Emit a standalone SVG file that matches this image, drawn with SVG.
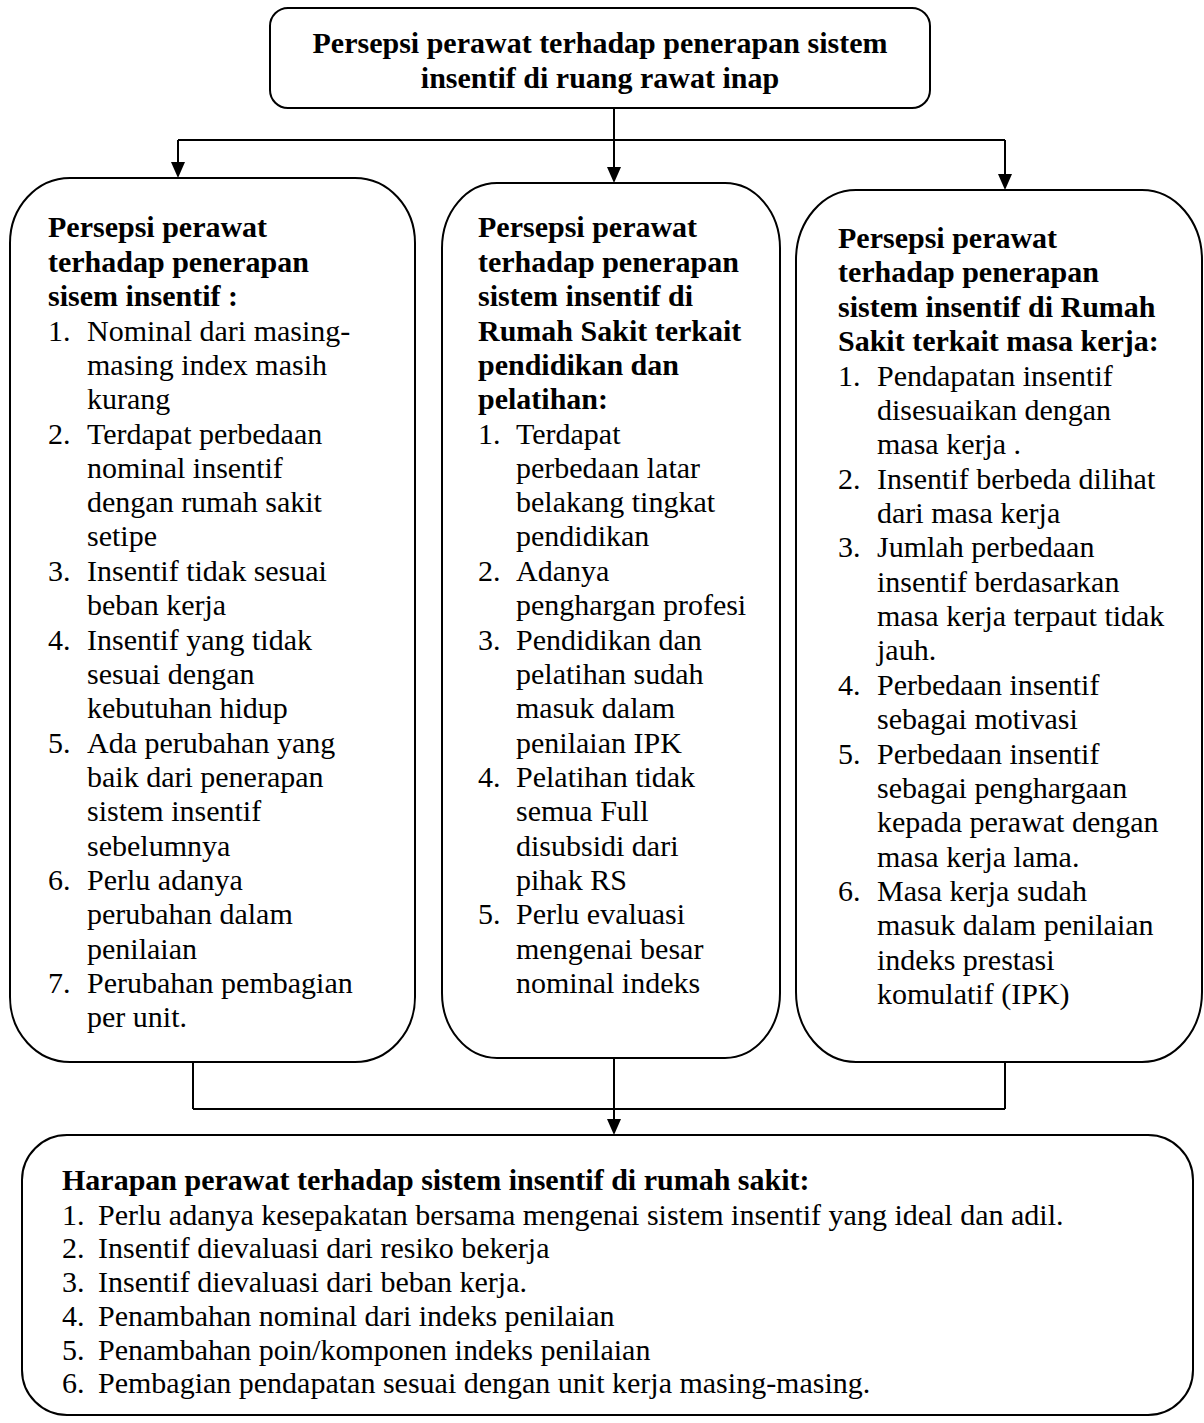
<svg xmlns="http://www.w3.org/2000/svg" width="1204" height="1423" viewBox="0 0 1204 1423">
<style>
.box{fill:#fff;stroke:#000;stroke-width:2}
.ln{fill:none;stroke:#000;stroke-width:2}
text{font-family:"Liberation Serif","Times New Roman",serif;font-size:30px;fill:#000}
.b{font-weight:bold}
</style>
<rect width="1204" height="1423" fill="#fff"/>
<g id="connectors">
<line class="ln" x1="614" y1="108" x2="614" y2="168"/>
<path d="M607,167 L621,167 L614,183 Z"/>
<line class="ln" x1="178" y1="140" x2="1005" y2="140"/>
<line class="ln" x1="178" y1="140" x2="178" y2="163"/>
<path d="M171,162 L185,162 L178,178 Z"/>
<line class="ln" x1="1005" y1="140" x2="1005" y2="175"/>
<path d="M998,174 L1012,174 L1005,190 Z"/>
<line class="ln" x1="193" y1="1062" x2="193" y2="1109"/>
<line class="ln" x1="1005" y1="1062" x2="1005" y2="1109"/>
<line class="ln" x1="193" y1="1109" x2="1005" y2="1109"/>
<line class="ln" x1="614" y1="1058" x2="614" y2="1120"/>
<path d="M607,1119 L621,1119 L614,1135 Z"/>
</g>
<g id="top">
<rect class="box" x="270" y="8" width="660" height="100" rx="18" ry="18"/>
<text class="b" x="600" y="53" text-anchor="middle">Persepsi perawat terhadap penerapan sistem</text>
<text class="b" x="600" y="88" text-anchor="middle">insentif di ruang rawat inap</text>
</g>
<g id="left">
<rect class="box" x="10" y="178" width="405" height="884" rx="60" ry="65"/>
<text class="b" x="48" y="237">Persepsi perawat</text>
<text class="b" x="48" y="272">terhadap penerapan</text>
<text class="b" x="48" y="306">sisem insentif :</text>
<text x="48" y="341">1.</text><text x="87" y="341">Nominal dari masing-</text>
<text x="87" y="375">masing index masih</text>
<text x="87" y="409">kurang</text>
<text x="48" y="444">2.</text><text x="87" y="444">Terdapat perbedaan</text>
<text x="87" y="478">nominal insentif</text>
<text x="87" y="512">dengan rumah sakit</text>
<text x="87" y="546">setipe</text>
<text x="48" y="581">3.</text><text x="87" y="581">Insentif tidak sesuai</text>
<text x="87" y="615">beban kerja</text>
<text x="48" y="650">4.</text><text x="87" y="650">Insentif yang tidak</text>
<text x="87" y="684">sesuai dengan</text>
<text x="87" y="718">kebutuhan hidup</text>
<text x="48" y="753">5.</text><text x="87" y="753">Ada perubahan yang</text>
<text x="87" y="787">baik dari penerapan</text>
<text x="87" y="821">sistem insentif</text>
<text x="87" y="856">sebelumnya</text>
<text x="48" y="890">6.</text><text x="87" y="890">Perlu adanya</text>
<text x="87" y="924">perubahan dalam</text>
<text x="87" y="959">penilaian</text>
<text x="48" y="993">7.</text><text x="87" y="993">Perubahan pembagian</text>
<text x="87" y="1027">per unit.</text>
</g>
<g id="middle">
<rect class="box" x="442" y="183" width="338" height="875" rx="55" ry="65"/>
<text class="b" x="478" y="237">Persepsi perawat</text>
<text class="b" x="478" y="272">terhadap penerapan</text>
<text class="b" x="478" y="306">sistem insentif di</text>
<text class="b" x="478" y="341">Rumah Sakit terkait</text>
<text class="b" x="478" y="375">pendidikan dan</text>
<text class="b" x="478" y="409">pelatihan:</text>
<text x="478" y="444">1.</text><text x="516" y="444">Terdapat</text>
<text x="516" y="478">perbedaan latar</text>
<text x="516" y="512">belakang tingkat</text>
<text x="516" y="546">pendidikan</text>
<text x="478" y="581">2.</text><text x="516" y="581">Adanya</text>
<text x="516" y="615">penghargan profesi</text>
<text x="478" y="650">3.</text><text x="516" y="650">Pendidikan dan</text>
<text x="516" y="684">pelatihan sudah</text>
<text x="516" y="718">masuk dalam</text>
<text x="516" y="753">penilaian IPK</text>
<text x="478" y="787">4.</text><text x="516" y="787">Pelatihan tidak</text>
<text x="516" y="821">semua Full</text>
<text x="516" y="856">disubsidi dari</text>
<text x="516" y="890">pihak RS</text>
<text x="478" y="924">5.</text><text x="516" y="924">Perlu evaluasi</text>
<text x="516" y="959">mengenai besar</text>
<text x="516" y="993">nominal indeks</text>
</g>
<g id="right">
<rect class="box" x="796" y="190" width="406" height="872" rx="60" ry="70"/>
<text class="b" x="838" y="248">Persepsi perawat</text>
<text class="b" x="838" y="282">terhadap penerapan</text>
<text class="b" x="838" y="317">sistem insentif di Rumah</text>
<text class="b" x="838" y="351">Sakit terkait masa kerja:</text>
<text x="838" y="386">1.</text><text x="877" y="386">Pendapatan insentif</text>
<text x="877" y="420">disesuaikan dengan</text>
<text x="877" y="454">masa kerja .</text>
<text x="838" y="489">2.</text><text x="877" y="489">Insentif berbeda dilihat</text>
<text x="877" y="523">dari masa kerja</text>
<text x="838" y="557">3.</text><text x="877" y="557">Jumlah perbedaan</text>
<text x="877" y="592">insentif berdasarkan</text>
<text x="877" y="626">masa kerja terpaut tidak</text>
<text x="877" y="660">jauh.</text>
<text x="838" y="695">4.</text><text x="877" y="695">Perbedaan insentif</text>
<text x="877" y="729">sebagai motivasi</text>
<text x="838" y="764">5.</text><text x="877" y="764">Perbedaan insentif</text>
<text x="877" y="798">sebagai penghargaan</text>
<text x="877" y="832">kepada perawat dengan</text>
<text x="877" y="867">masa kerja lama.</text>
<text x="838" y="901">6.</text><text x="877" y="901">Masa kerja sudah</text>
<text x="877" y="935">masuk dalam penilaian</text>
<text x="877" y="970">indeks prestasi</text>
<text x="877" y="1004">komulatif (IPK)</text>
</g>
<g id="bottom">
<rect class="box" x="22" y="1135" width="1171" height="280" rx="45" ry="45"/>
<text class="b" x="62" y="1190">Harapan perawat terhadap sistem insentif di rumah sakit:</text>
<text x="62" y="1225">1.</text><text x="98" y="1225">Perlu adanya kesepakatan bersama mengenai sistem insentif yang ideal dan adil.</text>
<text x="62" y="1258">2.</text><text x="98" y="1258">Insentif dievaluasi dari resiko bekerja</text>
<text x="62" y="1292">3.</text><text x="98" y="1292">Insentif dievaluasi dari beban kerja.</text>
<text x="62" y="1326">4.</text><text x="98" y="1326">Penambahan nominal dari indeks penilaian</text>
<text x="62" y="1360">5.</text><text x="98" y="1360">Penambahan poin/komponen indeks penilaian</text>
<text x="62" y="1393">6.</text><text x="98" y="1393">Pembagian pendapatan sesuai dengan unit kerja masing-masing.</text>
</g>
</svg>
